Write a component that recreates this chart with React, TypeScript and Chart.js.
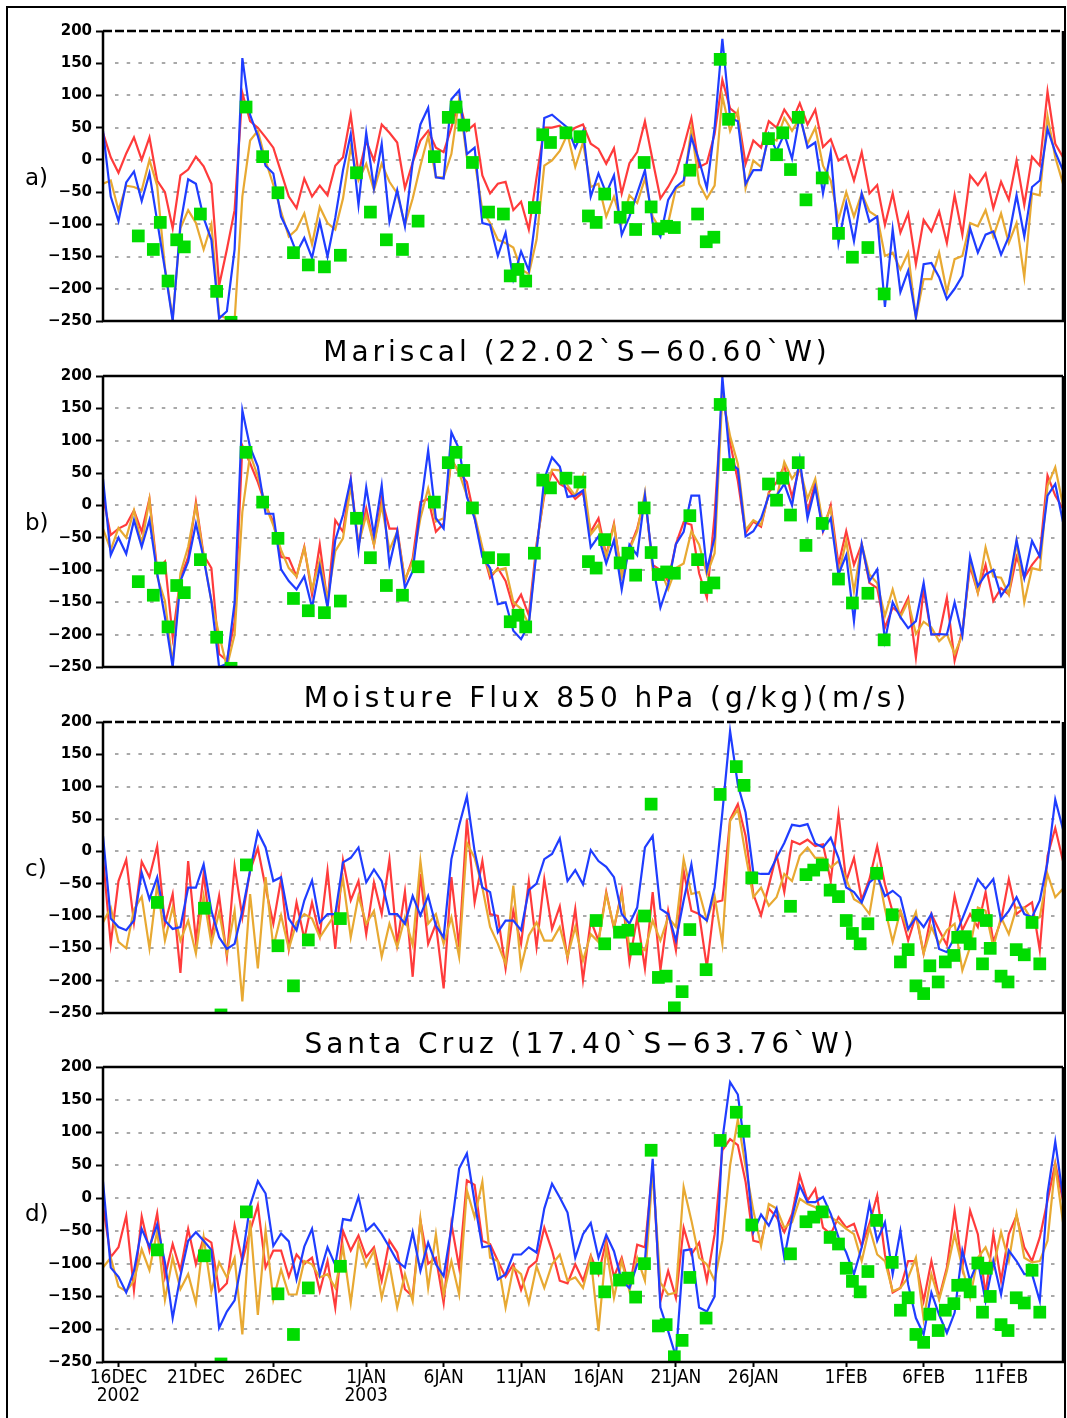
import React, { useEffect, useRef } from 'react';
import { Chart, registerables } from 'chart.js';

Chart.register(...registerables);

// time axis: days relative to 16 DEC 2002 00Z, series sampled every 12 h starting 15 DEC
const T0 = -1;
const DT = 0.5;
const X_MIN = -1;
const X_MAX = 61;
const X_TICK_DAYS = [0, 5, 10, 16, 21, 26, 31, 36, 41, 47, 52, 57];
const X_TICK_LABELS: (string | string[])[] = [
  ['16DEC', '2002'], '21DEC', '26DEC', ['1JAN', '2003'], '6JAN', '11JAN',
  '16JAN', '21JAN', '26JAN', '1FEB', '6FEB', '11FEB',
];
const Y_TICKS = [200, 150, 100, 50, 0, -50, -100, -150, -200, -250];
const GRID_VALUES = [150, 100, 50, 0, -50, -100, -150, -200];

// ---- Panel a (Mariscal) ----
const aRed = [
  42, 4, -20, 10, 35, 0, 35, -32, -50, -106,
  -24, -15, 5, -10, -37, -195, -139, -78, 104, 60,
  50, 35, 19, -19, -57, -75, -29, -57, -40, -55,
  -9, 4, 70, -21, 29, -1, 55, 42, 27, -44,
  -4, 30, 45, 19, 12, 50, 92, 45, 55, -24,
  -52, -37, -34, -78, -65, -108, -27, 50, 50, 53,
  40, 50, 55, 25, 17, -6, 18, -52, -5, 12,
  60, -1, -60, -42, -20, 20, 65, -11, -5, 40,
  124, 80, 70, -6, 30, 19, 60, 50, 78, 60,
  88, 55, 78, 20, 32, -1, 7, -32, 12, -52,
  -39, -101, -52, -113, -83, -162, -93, -111, -80, -129,
  -55, -116, -24, -39, -21, -75, -34, -62, -1, -70,
  5, -9, 106, 25, 4,
];
const aOrange = [
  -37, -32, -78, -40, -42, -47, 0, -40, -167, -246,
  -106, -78, -98, -139, -100, -241, -246, -249, -57, 30,
  45, -1, -39, -80, -119, -108, -83, -131, -73, -98,
  -108, -60, 19, -32, -6, -47, -6, -34, -52, -101,
  -60, -9, 37, -27, -27, 9, 94, 4, -1, -78,
  -98, -124, -129, -136, -170, -177, -124, -9, -1, 14,
  40, -11, 27, -42, -37, -88, -57, -98, -55, -67,
  -29, -88, -108, -98, -44, -39, 48, -37, -60, -40,
  99, 45, 76, -44, -1, -11, 35, 30, 65, 45,
  65, 25, 50, -9, -32, -93, -50, -88, -52, -80,
  -88, -149, -144, -170, -144, -246, -185, -185, -144, -205,
  -154, -149, -98, -103, -78, -119, -83, -129, -98, -182,
  -52, -55, 68, 4, -37,
];
const aBlue = [
  45, -57, -95, -35, -18, -64, -21, -95, -170, -250,
  -100, -30, -37, -90, -124, -246, -235, -139, 158, 70,
  37, -9, -21, -88, -113, -144, -121, -152, -96, -150,
  -90, -16, 40, -70, 42, -44, 25, -96, -47, -103,
  -4, 55, 81, -27, -29, 94, 108, 9, 19, -98,
  -101, -149, -113, -185, -142, -172, -78, 65, 70, 60,
  50, 19, 45, -57, -21, -52, -24, -116, -88, -52,
  -16, -98, -119, -62, -42, -32, 35, -1, -44, 50,
  188, 65, 60, -37, -16, -16, 40, 14, 40, 2,
  70, 19, 27, -52, 12, -129, -67, -126, -52, -96,
  -88, -228, -108, -205, -172, -244, -162, -160, -182, -216,
  -200, -180, -106, -144, -116, -111, -147, -119, -55, -119,
  -42, -32, 48, 12, -16,
];

// ---- Panel b (Mariscal) ----
const bRed = [
  13, -46, -36, -30, -8, -41, 10, -100, -87, -204,
  -112, -80, 5, -77, -97, -230, -240, -180, 92, 65,
  36, 0, -26, -80, -82, -110, -64, -138, -61, -150,
  -23, -41, 40, -61, -5, -61, 10, -36, -36, -117,
  -82, 5, 10, -41, -28, 71, 51, 36, -20, -69,
  -112, -97, -117, -158, -138, -170, -60, 15, 51, 33,
  26, 10, 20, -41, -20, -77, -28, -110, -66, -36,
  13, -92, -100, -117, -60, -26, -30, -105, -143, -15,
  175, 97, 38, -43, -25, -33, 20, 36, 61, 13,
  61, -10, 36, -40, 0, -92, -40, -92, -60, -120,
  -128, -189, -158, -168, -143, -235, -130, -199, -201, -143,
  -240, -194, -94, -135, -92, -148, -128, -138, -80, -112,
  -92, -77, 46, 15, -5,
];
const bOrange = [
  -36, -69, -35, -50, -8, -60, 9, -110, -148, -245,
  -105, -64, 0, -80, -148, -200, -250, -200, -10, 79,
  45, 0, -31, -69, -97, -110, -66, -130, -85, -145,
  -71, -51, 30, -61, -15, -61, 0, -69, -41, -115,
  -87, -20, 26, -25, -20, 71, 50, 15, -15, -65,
  -107, -100, -97, -150, -160, -184, -65, 20, 55, 54,
  31, 15, 46, -45, -30, -80, -31, -110, -69, -40,
  20, -100, -99, -130, -97, -90, -40, -61, -107, -74,
  170, 107, 64, -38, -23, -30, 18, 10, 67, 41,
  58, 10, 41, -30, -5, -107, -55, -133, -60, -107,
  -120, -171, -130, -173, -148, -199, -180, -189, -210, -199,
  -230, -200, -87, -135, -65, -110, -112, -138, -56, -150,
  -97, -100, 30, 59, 0,
];
const bBlue = [
  41, -77, -50, -75, -23, -64, -23, -105, -173, -250,
  -117, -87, -28, -82, -148, -250, -245, -150, 147, 90,
  60, -13, -13, -99, -117, -130, -110, -158, -95, -158,
  -54, -15, 40, -69, 28, -46, 31, -92, -40, -128,
  -102, -5, 85, -20, -36, 113, 87, 13, -20, -80,
  -97, -153, -150, -194, -207, -184, -71, 41, 74, 60,
  13, 15, 23, -65, -48, -90, -54, -130, -61, -77,
  15, -90, -158, -122, -60, -41, 15, 15, -100, -50,
  199, 66, 56, -48, -40, -20, 15, 15, 33, 0,
  71, -20, 28, -40, -20, -107, -77, -179, -60, -117,
  -99, -209, -150, -173, -190, -179, -120, -200, -199, -200,
  -150, -201, -79, -125, -107, -100, -140, -122, -54, -112,
  -55, -79, 15, 33, -26,
];

// ---- Panel c (Santa Cruz) ----
const cRed = [
  -10, -143, -46, -13, -110, -16, -40, 8, -112, -66,
  -188, -15, -138, -35, -133, -69, -163, -23, -102, -30,
  5, -56, -112, -43, -151, -79, -135, -79, -130, -30,
  -151, -14, -76, -46, -128, -48, -97, -13, -143, -62,
  -194, -35, -143, -112, -212, -40, -148, 49, -79, -15,
  -97, -100, -181, -92, -143, -46, -148, -43, -120, -85,
  -166, -89, -199, -107, -138, -63, -120, -61, -171, -102,
  -181, -63, -184, -92, -153, -30, -92, -97, -179, -79,
  -76, 49, 73, 24, -66, -99, -53, -5, -63, 16,
  11, 18, 8, 11, -46, 58, -46, -10, -75, -43,
  8, -51, -94, -92, -138, -99, -158, -97, -122, -145,
  -69, -122, -97, -117, -63, -140, -107, -43, -97, -87,
  -79, -153, -7, 36, -15,
];
const cOrange = [
  -110, -87, -140, -150, -90, -70, -150, -51, -138, -87,
  -138, -107, -158, -69, -143, -94, -158, -92, -232, -66,
  -181, -40, -148, -99, -151, -110, -97, -104, -133, -115,
  -97, -43, -133, -69, -112, -92, -163, -112, -148, -102,
  -145, -15, -112, -97, -143, -102, -163, 13, -10, -56,
  -117, -143, -174, -53, -179, -130, -110, -138, -138, -117,
  -163, -117, -169, -128, -140, -66, -117, -66, -148, -148,
  -153, -107, -138, -102, -117, -12, -66, -63, -107, -69,
  -143, 47, 65, -5, -71, -56, -84, -71, -35, -46,
  -7, 6, -10, -10, -25, -15, -43, -74, -81, -97,
  -25, -89, -140, -92, -122, -94, -158, -117, -143, -122,
  -112, -184, -148, -87, -92, -148, -102, -128, -87, -87,
  -107, -102, -35, -71, -58,
];
const cBlue = [
  24, -104, -117, -122, -107, -33, -74, -40, -107, -120,
  -117, -56, -56, -20, -92, -133, -151, -143, -92, -30,
  30, 6, -46, -40, -104, -122, -76, -45, -110, -97,
  -97, -17, -10, 6, -48, -28, -46, -97, -97, -112,
  -69, -99, -69, -115, -133, -12, 40, 85, 0, -56,
  -63, -125, -107, -107, -122, -60, -50, -12, -4, 20,
  -46, -29, -51, 2, -15, -24, -40, -97, -112, -87,
  6, 24, -89, -97, -138, -76, -20, -97, -107, -56,
  60, 186, 103, 60, -33, -35, -35, -10, 13, 41,
  39, 42, 12, 6, 21, -10, -56, -63, -79, -48,
  -38, -69, -61, -71, -120, -102, -117, -97, -151, -156,
  -133, -104, -74, -43, -58, -43, -107, -92, -71, -97,
  -102, -76, -17, 80, 34,
];

// ---- Panel d (Santa Cruz) ----
const dRed = [
  -11, -90, -75, -27, -140, -28, -80, -23, -120, -70,
  -110, -47, -101, -60, -68, -142, -130, -42, -96, -50,
  -11, -106, -80, -80, -120, -86, -100, -91, -142, -96,
  -167, -50, -80, -57, -90, -75, -126, -65, -83, -139,
  -150, -34, -100, -91, -160, -39, -106, 27, 20, -65,
  -70, -96, -120, -101, -140, -106, -96, -45, -80, -126,
  -130, -101, -126, -88, -116, -65, -120, -91, -137, -71,
  -75, 48, -157, -111, -152, -45, -86, -68, -126, -55,
  73, 90, 81, 25, -65, -68, -16, -29, -52, -24,
  35, -4, 14, -45, -55, -29, -45, -39, -73, -39,
  4, -86, -144, -137, -96, -96, -157, -96, -152, -106,
  -19, -106, -19, -55, -147, -55, -126, -55, -27, -75,
  -96, -60, -4, 53, -4,
];
const dOrange = [
  -106, -91, -135, -142, -126, -78, -110, -50, -155, -91,
  -139, -116, -160, -60, -142, -98, -121, -91, -208, -34,
  -178, -49, -155, -109, -147, -147, -96, -101, -121, -116,
  -137, -75, -160, -68, -104, -80, -152, -101, -167, -116,
  -157, -32, -137, -55, -147, -96, -147, 12, -29, 25,
  -91, -96, -167, -106, -116, -160, -104, -137, -101, -86,
  -126, -121, -137, -91, -203, -75, -152, -96, -142, -91,
  -126, 42, -129, -147, -144, 17, -34, -91, -101, -126,
  -65, 50, 120, 48, -19, -73, -9, -16, -45, -37,
  -1, -9, -14, -27, -29, -37, -47, -55, -96, -45,
  -86, -96, -142, -137, -121, -91, -185, -116, -155, -111,
  -55, -106, -152, -91, -75, -106, -52, -96, -24, -91,
  -98, -96, -65, 50, -37,
];
const dBlue = [
  25, -106, -120, -144, -111, -47, -74, -40, -98, -183,
  -119, -65, -52, -65, -79, -198, -173, -156, -91, -11,
  26, 7, -73, -54, -66, -124, -74, -47, -116, -75,
  -102, -32, -34, 2, -50, -39, -55, -75, -96, -106,
  -52, -111, -68, -101, -119, -45, 45, 68, -6, -75,
  -73, -124, -116, -86, -86, -75, -83, -16, 22, 1,
  -22, -91, -55, -38, -91, -56, -81, -126, -137, -101,
  -96, 60, -167, -203, -242, -80, -78, -167, -173, -150,
  89, 177, 158, 68, -52, -25, -42, -16, -91, -29,
  19, -6, -6, 2, -24, -60, -83, -116, -75, -9,
  -65, -37, -116, -50, -132, -183, -208, -144, -178, -206,
  -175, -80, -126, -96, -157, -96, -147, -80, -96, -116,
  -116, -157, 7, 86, 2,
];

// ---- Observations (green squares) ----
const mariscalObsDay = [
  1.28, 2.25, 2.7, 3.2, 3.76, 4.25, 5.29, 6.34, 7.27, 8.24,
  9.31, 10.3, 11.3, 12.26, 13.3, 14.33, 15.37, 16.27, 17.3, 18.34,
  19.35, 20.4, 21.3, 21.8, 22.3, 22.86, 23.9, 24.86, 25.3, 25.8,
  26.3, 26.86, 27.4, 27.9, 28.9, 29.8, 30.35, 30.85, 31.4, 32.4,
  32.9, 33.4, 33.95, 34.4, 34.86, 35.4, 35.9, 36.9, 37.4, 37.96,
  38.45, 38.86, 39.4, 41.98, 42.5, 42.9, 43.4, 43.9, 44.4, 45.45,
  46.5, 47.4, 48.4, 49.45,
];
const mariscalObsVal = [
  -118, -139, -97, -188, -124, -135, -84, -204, -252, 82,
  5, -51, -144, -163, -166, -148, -20, -81, -124, -139,
  -95, 5, 66, 82, 54, -4, -81, -84, -180, -170,
  -188, -74, 39, 27, 42, 36, -87, -97, -53, -89,
  -74, -108, -4, -73, -107, -103, -105, -16, -84, -127,
  -120, 156, 63, 33, 8, 42, -15, 66, -62, -28,
  -114, -151, -136, -208,
];
const santaCruzObsDay = [
  2.51, 5.55, 6.62, 8.26, 10.3, 11.3, 12.26, 14.33, 30.85, 31.4,
  32.36, 32.9, 33.4, 33.97, 34.4, 34.87, 35.37, 35.9, 36.4, 36.9,
  37.95, 38.86, 39.9, 40.4, 40.9, 43.4, 44.4, 44.9, 45.45, 45.96,
  46.5, 47, 47.4, 47.9, 48.4, 48.96, 49.97, 50.5, 51, 51.5,
  52, 52.4, 52.94, 53.4, 53.95, 54.2, 54.7, 55, 55.5, 55.8,
  56.05, 56.3, 57, 57.45, 57.98, 58.5, 59, 59.5,
];
const santaCruzObsVal = [
  -79, -88, -253, -21, -146, -208, -137, -104, -107, -143,
  -125, -122, -151, -100, 73, -195, -193, -242, -217, -121,
  -183, 88, 131, 102, -41, -85, -36, -29, -21, -60,
  -70, -107, -127, -143, -112, -34, -98, -171, -152, -208,
  -220, -177, -202, -171, -161, -133, -132, -143, -99, -174,
  -107, -150, -193, -202, -152, -160, -110, -174,
];

const RED = '#ff3b3b';
const ORANGE = '#e8a932';
const BLUE = '#1f3dff';
const GREEN = '#00dc00';

function seriesXY(vals: number[]) {
  return vals.map((v, i) => ({ x: T0 + i * DT, y: v }));
}
function obsXY(days: number[], vals: number[]) {
  return days.map((d, i) => ({ x: d, y: vals[i] }));
}

const framePlugin = {
  id: 'frame',
  beforeDatasetsDraw(chart: any) {
    const { ctx, chartArea: a, scales } = chart;
    ctx.save();
    ctx.strokeStyle = '#a9a9a9';
    ctx.lineWidth = 2;
    ctx.setLineDash([3.5, 8.2]);
    for (const v of GRID_VALUES) {
      const y = Math.round(scales.y.getPixelForValue(v));
      ctx.beginPath();
      ctx.moveTo(a.left + 12, y);
      ctx.lineTo(a.right - 6, y);
      ctx.stroke();
    }
    ctx.restore();
  },
  afterDatasetsDraw(chart: any, _args: any, opts: any) {
    const { ctx, chartArea: a } = chart;
    ctx.save();
    ctx.strokeStyle = '#000';
    ctx.lineWidth = 2.5;
    ctx.beginPath();
    ctx.moveTo(a.left, a.top);
    ctx.lineTo(a.left, a.bottom);
    ctx.lineTo(a.right, a.bottom);
    ctx.lineTo(a.right, a.top);
    ctx.stroke();
    if (opts && opts.topDashed) ctx.setLineDash([9, 3]);
    ctx.beginPath();
    ctx.moveTo(a.left, a.top);
    ctx.lineTo(a.right, a.top);
    ctx.stroke();
    ctx.restore();
  },
};

interface PanelCfg {
  top: number;
  bottom: number;
  red: number[];
  orange: number[];
  blue: number[];
  obsDay: number[];
  obsVal: number[];
  showX: boolean;
  topDashed: boolean;
}

const PAD_TOP = 20;
const X_AXIS_H = 50;

function Panel({ cfg }: { cfg: PanelCfg }) {
  const ref = useRef<HTMLCanvasElement>(null);
  const padBottom = cfg.showX ? 0 : 10;
  const height = PAD_TOP + (cfg.bottom - cfg.top) + padBottom + (cfg.showX ? X_AXIS_H : 0);

  useEffect(() => {
    const lineDs = (vals: number[], color: string, order: number) => ({
      data: seriesXY(vals),
      borderColor: color,
      backgroundColor: color,
      borderWidth: 2.2,
      pointRadius: 0,
      tension: 0,
      fill: false,
      order,
    });
    const chart = new Chart(ref.current as HTMLCanvasElement, {
      type: 'line',
      data: {
        datasets: [
          {
            data: obsXY(cfg.obsDay, cfg.obsVal),
            showLine: false,
            pointStyle: 'rect',
            pointRadius: 9,
            pointBackgroundColor: GREEN,
            pointBorderColor: GREEN,
            pointBorderWidth: 0,
            order: 0,
            clip: 0,
          } as any,
          lineDs(cfg.blue, BLUE, 1),
          lineDs(cfg.orange, ORANGE, 2),
          lineDs(cfg.red, RED, 3),
        ],
      },
      options: {
        animation: false,
        responsive: false,
        maintainAspectRatio: false,
        events: [],
        layout: { autoPadding: false, padding: { left: 0, right: 4, top: PAD_TOP, bottom: padBottom } },
        plugins: {
          legend: { display: false },
          tooltip: { enabled: false },
          title: { display: false },
          frame: { topDashed: cfg.topDashed },
        } as any,
        scales: {
          x: {
            type: 'linear',
            min: X_MIN,
            max: X_MAX,
            display: cfg.showX,
            afterBuildTicks: (s: any) => {
              s.ticks = X_TICK_DAYS.map((v) => ({ value: v }));
            },
            afterFit: (s: any) => {
              if (cfg.showX) s.height = X_AXIS_H;
            },
            grid: {
              color: 'rgba(0,0,0,0)',
              drawTicks: true,
              tickLength: 5,
              tickColor: '#000',
              tickWidth: 2,
            },
            border: { display: false },
            ticks: {
              autoSkip: false,
              maxRotation: 0,
              minRotation: 0,
              padding: 2,
              color: '#000',
              font: {
                family: "'Liberation Sans Narrow', 'DejaVu Sans Condensed', 'DejaVu Sans', sans-serif",
                size: 19,
                lineHeight: 0.95,
              },
              callback: (_v: any, i: number) => X_TICK_LABELS[i],
            },
          },
          y: {
            type: 'linear',
            min: -250,
            max: 200,
            afterBuildTicks: (s: any) => {
              s.ticks = Y_TICKS.map((v) => ({ value: v }));
            },
            afterFit: (s: any) => {
              s.width = 103;
            },
            grid: {
              color: 'rgba(0,0,0,0)',
              drawTicks: true,
              tickLength: 7,
              tickColor: '#000',
              tickWidth: 2,
            },
            border: { display: false },
            ticks: {
              padding: 4,
              color: '#000',
              font: { family: "'DejaVu Sans', sans-serif", weight: 'bold', size: 15 },
              callback: (v: any) => String(v).replace('-', '\u2212'),
            },
          },
        },
      } as any,
      plugins: [framePlugin as any],
    });
    return () => chart.destroy();
  }, [cfg]);

  return (
    <canvas
      ref={ref}
      width={1067}
      height={height}
      style={{ position: 'absolute', left: 0, top: cfg.top - PAD_TOP, width: 1067, height }}
    />
  );
}

const PANELS: PanelCfg[] = [
  { top: 31, bottom: 324, red: aRed, orange: aOrange, blue: aBlue, obsDay: mariscalObsDay, obsVal: mariscalObsVal, showX: false, topDashed: true },
  { top: 376, bottom: 670, red: bRed, orange: bOrange, blue: bBlue, obsDay: mariscalObsDay, obsVal: mariscalObsVal, showX: false, topDashed: false },
  { top: 722, bottom: 1016, red: cRed, orange: cOrange, blue: cBlue, obsDay: santaCruzObsDay, obsVal: santaCruzObsVal, showX: false, topDashed: true },
  { top: 1067, bottom: 1362, red: dRed, orange: dOrange, blue: dBlue, obsDay: santaCruzObsDay, obsVal: santaCruzObsVal, showX: true, topDashed: false },
];

const TITLES = [
  { text: 'Mariscal (22.02`S\u221260.60`W)', cx: 577, cy: 352 },
  { text: 'Moisture Flux 850 hPa (g/kg)(m/s)', cx: 607, cy: 698 },
  { text: 'Santa Cruz (17.40`S\u221263.76`W)', cx: 581, cy: 1044 },
];
const PANEL_LETTERS = [
  { text: 'a)', cy: 177 },
  { text: 'b)', cy: 522 },
  { text: 'c)', cy: 868 },
  { text: 'd)', cy: 1213 },
];

export default function App() {
  return (
    <div
      style={{
        position: 'absolute',
        left: 0,
        top: 0,
        width: 1067,
        height: 1418,
        overflow: 'hidden',
        background: '#fff',
      }}
    >
      <div
        style={{
          position: 'absolute',
          left: 6,
          top: 6,
          width: 1056,
          height: 1440,
          borderLeft: '2px solid #000',
          borderTop: '2px solid #000',
          borderRight: '2px solid #000',
        }}
      />
      {PANELS.map((p, i) => (
        <Panel key={i} cfg={p} />
      ))}
      {TITLES.map((t, i) => (
        <div
          key={i}
          style={{
            position: 'absolute',
            left: t.cx - 450,
            width: 900,
            top: t.cy - 17,
            height: 34,
            lineHeight: '34px',
            textAlign: 'center',
            fontFamily: "'DejaVu Sans', sans-serif",
            fontSize: 28,
            letterSpacing: 4,
            color: '#000',
            whiteSpace: 'pre',
          }}
        >
          {t.text}
        </div>
      ))}
      {PANEL_LETTERS.map((l, i) => (
        <div
          key={i}
          style={{
            position: 'absolute',
            left: 25,
            top: l.cy - 15,
            height: 30,
            lineHeight: '30px',
            fontFamily: "'DejaVu Sans', sans-serif",
            fontSize: 23,
            color: '#000',
          }}
        >
          {l.text}
        </div>
      ))}
    </div>
  );
}
